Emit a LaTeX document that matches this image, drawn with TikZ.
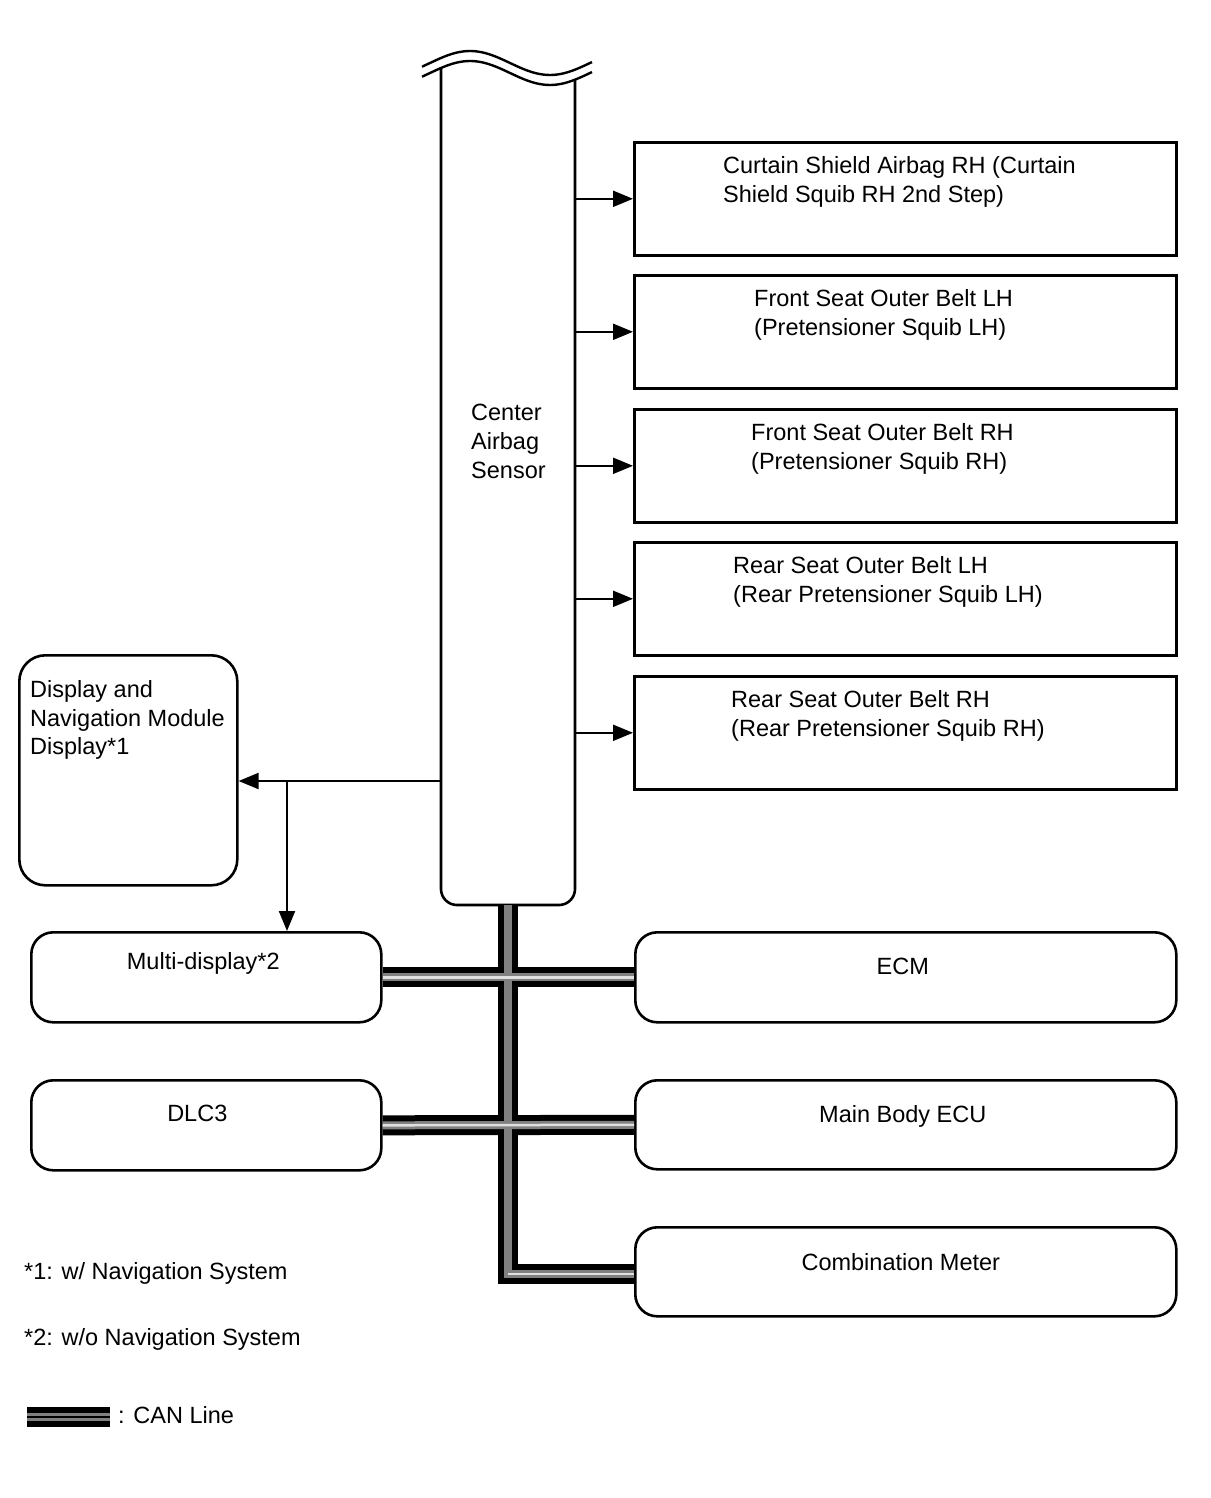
\documentclass[tikz,border=0pt]{standalone}
\usepackage{fontspec}
\setmainfont{Liberation Sans}
\usetikzlibrary{positioning,arrows.meta}
\begin{document}
\begin{tikzpicture}
[x=1pt,y=-1pt,
 boxline/.style={line width=2.6pt},
 sqbox/.style={boxline,draw,minimum width=542pt,minimum height=113pt,anchor=north west},
 rndbox/.style={boxline,draw,rounded corners=22pt,anchor=north west},
 signal/.style={line width=2pt,-{Triangle[length=20pt,width=16pt]}},
 canout/.style={line width=20pt},
 canin/.style={line width=8pt,gray},
 canmid/.style={line width=2.5pt,gray!25},
 txt/.style={font=\fontsize{23.5}{28.8}\selectfont,inner sep=0pt,align=left}]
\useasboundingbox (0,0) rectangle (1210,1498);
%% center airbag sensor with the broken top
\node (sensor) [minimum width=134pt,minimum height=837pt,outer sep=0pt,inner sep=0pt,
  anchor=north west] at (441,68) {};
\draw[boxline,rounded corners=16pt] (sensor.north west) |- (sensor.south east) --
  ([yshift=-12pt]sensor.north east);
\foreach \off in {0,10} {
  \draw[line width=2.4pt,domain=422:592,samples=50]
    plot (\x,{63+\off-12*cos((\x-470)*2.25)});
}
\node (sensortxt) [txt,anchor=north west] at (471,404) {Center\\Airbag\\Sensor};
%% squib boxes on the right
\foreach \n/\y/\x/\t in {1/141/723/{Curtain Shield Airbag RH (Curtain\\Shield Squib RH 2nd Step)},
  2/274/754/{Front Seat Outer Belt LH\\(Pretensioner Squib LH)},
  3/408/751/{Front Seat Outer Belt RH\\(Pretensioner Squib RH)},
  4/541/733/{Rear Seat Outer Belt LH\\(Rear Pretensioner Squib LH)},
  5/675/731/{Rear Seat Outer Belt RH\\(Rear Pretensioner Squib RH)}} {
  \node (squib\n) [sqbox] at (633,\y) {};
  \node (squibtxt\n) [txt,anchor=north west] at (\x,\y+15) {\t};
  \draw[signal] (sensor.east |- squib\n.west) -- (squib\n.west);
}
%% display side
\node (disp) [rndbox,rounded corners=26pt,minimum width=218pt,minimum height=230pt] at (18,654) {};
\node (disptxt) [txt,anchor=north west] at (30,680) {Display and\\Navigation Module\\Display*1};
\node (multi) [rndbox,minimum width=350pt,minimum height=90pt] at (30,931) {};
\node (multitxt) [txt] at ([xshift=-3pt,yshift=14pt]multi.center) {Multi-display*2};
\node (dlc) [rndbox,minimum width=350pt,minimum height=90pt] at (30,1079) {};
\node (dlctxt) [txt] at ([xshift=-9pt,yshift=12pt]dlc.center) {DLC3};
\coordinate (split) at (287,781);
\draw[signal] (sensor.west |- split) -- (disp.east |- split);
\draw[signal] (split) -- (split |- multi.north);
%% ECUs on the right
\node (ecm) [rndbox,minimum width=541pt,minimum height=90pt] at (634,931) {};
\node (ecmtxt) [txt] at ([xshift=-3pt,yshift=11pt]ecm.center) {ECM};
\node (body) [rndbox,minimum width=541pt,minimum height=89pt] at (634,1079) {};
\node (bodytxt) [txt] at ([xshift=-3pt,yshift=8pt]body.center) {Main Body ECU};
\node (meter) [rndbox,minimum width=541pt,minimum height=89pt] at (634,1226) {};
\node (metertxt) [txt] at ([xshift=-5pt,yshift=10pt]meter.center) {Combination Meter};
%% CAN bus
\coordinate (legA) at (27,1417);
\coordinate (legB) at (110,1417);
\foreach \s in {canout,canin} {
  \draw[\s] (sensor.south) |- ([yshift=-2pt]meter.west);
  \draw[\s] (multi.east) -- (ecm.west);
  \draw[\s] (dlc.east) -- (body.west);
  \draw[\s] (legA) -- (legB);
}
\draw[canmid] (multi.east) -- (ecm.west);
\draw[canmid] (dlc.east) -- (body.west);
\draw[canmid] ([yshift=-2pt]meter.west -| sensor.south) -- ([yshift=-2pt]meter.west);
\draw[line width=2.5pt] (legA) -- (legB);
%% notes
\node (note1) [txt,anchor=west] at (24,1273) {*1: w/ Navigation System};
\node (note2) [txt,anchor=west] at (24,1339) {*2: w/o Navigation System};
\node (legtxt) [txt,anchor=west] at (118,1415) {: CAN Line};
\end{tikzpicture}
\end{document}
